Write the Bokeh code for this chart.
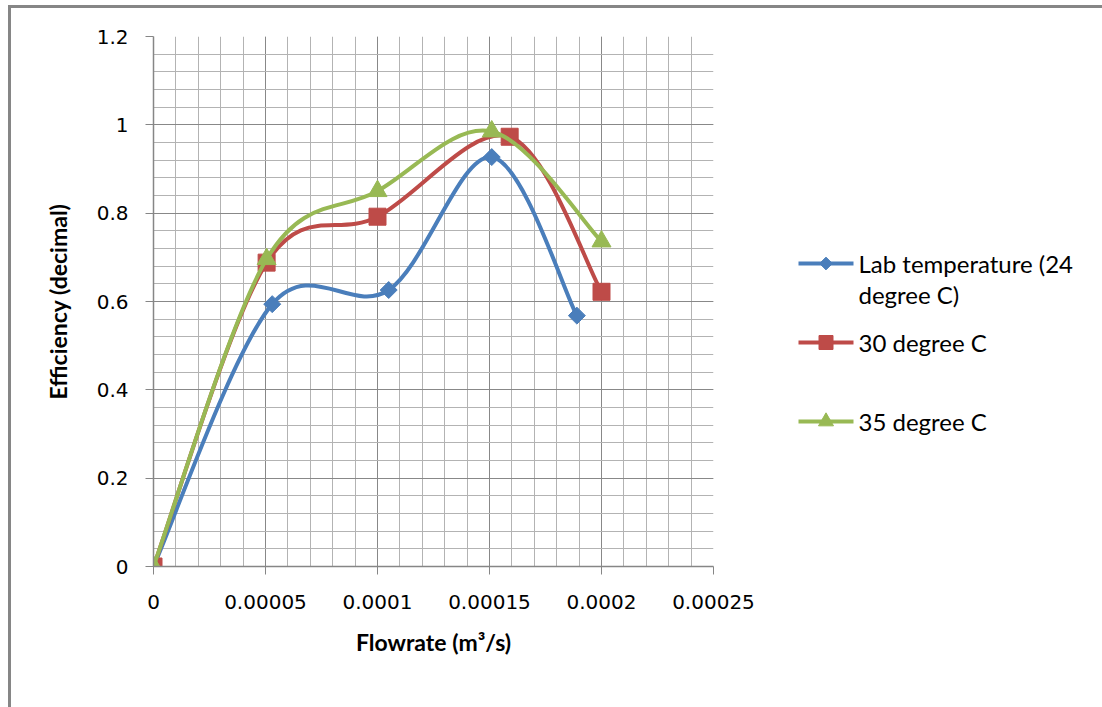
import numpy as np
from bokeh.plotting import figure
from bokeh.layouts import row
from bokeh.models import FixedTicker, Range1d
from bokeh.core.properties import value
from bokeh.embed import file_html
from bokeh.resources import INLINE

# ---------------- data ----------------
series_names = ["Lab temperature (24\ndegree C)", "30 degree C", "35 degree C"]
flow_lab = [0, 0.0000530, 0.000105, 0.000151, 0.000189]
eff_lab = [0, 0.594, 0.626, 0.927, 0.568]
flow_30 = [0, 0.0000505, 0.0001, 0.000159, 0.0002]
eff_30 = [0, 0.688, 0.792, 0.973, 0.622]
flow_35 = [0, 0.0000505, 0.0001, 0.000151, 0.0002]
eff_35 = [0, 0.696, 0.850, 0.985, 0.736]

x_ticks = [0, 0.00005, 0.0001, 0.00015, 0.0002, 0.00025]
x_tick_labels = ["0", "0.00005", "0.0001", "0.00015", "0.0002", "0.00025"]
y_ticks = [0, 0.2, 0.4, 0.6, 0.8, 1.0, 1.2]
y_tick_labels = ["0", "0.2", "0.4", "0.6", "0.8", "1", "1.2"]

x_title = "Flowrate (m\u00b3/s)"
y_title = "Efficiency (decimal)"

# ---------------- styles ----------------
colors = ["#4a7ebb", "#be4b48", "#98b954"]
markers = ["square", "square", "triangle"]
marker_angles = [np.pi / 4, 0, 0]
marker_sizes = [12, 17, 19]
AX = "#868686"
GRID_MAJ = "#888888"
GRID_MIN = "#b3b3b3"
TICK_FONT = "DejaVu Sans"
TITLE_FONT = "Lato"

# page geometry (page pixels)
OX, OY = 11, 8              # content origin after margin + border
PW, PH = 749, 699           # main figure size
LW = 342                    # legend panel width
FL, FR, FT, FB = 153, 713, 36, 566   # plot frame in page pixels

p = figure(width=PW, height=PH, output_backend="svg", toolbar_location=None,
           x_range=Range1d(0, 0.00025), y_range=Range1d(0, 1.2),
           min_border_left=FL - OX, min_border_right=OX + PW - FR,
           min_border_top=FT - OY, min_border_bottom=OY + PH - FB)
p.background_fill_color = "white"
p.border_fill_color = "white"
p.outline_line_color = None

xminor = list(np.linspace(0, 0.00025, 26))
yminor = list(np.linspace(0, 1.2, 31))
p.xaxis.ticker = FixedTicker(ticks=x_ticks, minor_ticks=xminor)
p.yaxis.ticker = FixedTicker(ticks=y_ticks, minor_ticks=yminor)
p.xaxis.major_label_overrides = {t: l for t, l in zip(x_ticks, x_tick_labels)}
p.yaxis.major_label_overrides = {t: l for t, l in zip(y_ticks, y_tick_labels)}

for ax in (p.xaxis, p.yaxis):
    ax.axis_line_color = AX
    ax.axis_line_width = 1.5
    ax.major_tick_line_color = AX
    ax.major_tick_in = 0
    ax.major_tick_out = 8
    ax.minor_tick_line_color = None
    ax.major_label_text_font = TICK_FONT
    ax.major_label_text_font_size = "20px"
    ax.major_label_text_color = "#000000"
    ax.axis_label_text_font = TITLE_FONT
    ax.axis_label_text_font_style = "bold"
    ax.axis_label_text_font_size = "23px"
    ax.axis_label_text_color = "#000000"

p.xaxis.axis_label = x_title
p.yaxis.axis_label = y_title
p.yaxis.major_label_standoff = 17
p.xaxis.major_label_standoff = 20
p.xaxis.axis_label_standoff = 16
p.yaxis.axis_label_standoff = 22

for g in (p.xgrid, p.ygrid):
    g.grid_line_color = GRID_MAJ
    g.grid_line_width = 1
    g.minor_grid_line_color = GRID_MIN
    g.minor_grid_line_width = 1


def bezier_controls(xs, ys):
    """Cubic Bezier control points of a Catmull-Rom (Excel-style) smoothed line."""
    n = len(xs)
    out = {k: [] for k in ("x0", "y0", "x1", "y1", "cx0", "cy0", "cx1", "cy1")}
    for i in range(n - 1):
        a = i - 1 if i > 0 else i
        d = i + 2 if i + 2 < n else i + 1
        out["x0"].append(xs[i]); out["y0"].append(ys[i])
        out["x1"].append(xs[i + 1]); out["y1"].append(ys[i + 1])
        out["cx0"].append(xs[i] + (xs[i + 1] - xs[a]) / 6)
        out["cy0"].append(ys[i] + (ys[i + 1] - ys[a]) / 6)
        out["cx1"].append(xs[i + 1] - (xs[d] - xs[i]) / 6)
        out["cy1"].append(ys[i + 1] - (ys[d] - ys[i]) / 6)
    return out


all_x = [flow_lab, flow_30, flow_35]
all_y = [eff_lab, eff_30, eff_35]
for xs, ys, c, m, a, s in zip(all_x, all_y, colors, markers, marker_angles, marker_sizes):
    b = bezier_controls(xs, ys)
    p.bezier(**b, line_color=c, line_width=4)
    p.scatter(xs, ys, marker=m, angle=a, size=s, fill_color=c, line_color=c)

# ---------------- legend panel (its own figure, page-pixel coordinates) ----------------
# Bokeh aligns this figure's frame with the main plot frame (page y FT..FB)
LX0 = OX + PW
lg = figure(width=LW, height=PH, output_backend="svg", toolbar_location=None,
            x_range=Range1d(LX0, LX0 + LW), y_range=Range1d(FB, FT),
            x_axis_type=None, y_axis_type=None,
            min_border_left=0, min_border_right=0,
            min_border_top=FT - OY, min_border_bottom=OY + PH - FB)
lg.grid.visible = False
lg.outline_line_color = None
lg.background_fill_color = "white"
lg.border_fill_color = "white"

leg_x0, leg_x1, leg_tx = 798, 853, 858
leg_rows = [263, 342, 421]
leg_line_gap = 31
leg_sizes = [9, 14, 15]
for name, yy, c, m, a, s in zip(series_names, leg_rows, colors, markers, marker_angles, leg_sizes):
    lg.line([leg_x0, leg_x1], [yy, yy], line_color=c, line_width=4)
    lg.scatter([(leg_x0 + leg_x1) / 2], [yy], marker=m, angle=a, size=s, fill_color=c, line_color=c)
    for k, t in enumerate(name.split("\n")):
        lg.text([leg_tx], [yy + leg_line_gap * k], text=[t], text_font=value(TITLE_FONT),
                text_font_size="24px", text_baseline="middle", text_align="left", text_color="#000000")

layout = row(p, lg, margin=(5, 0, 0, 8),
             styles={"border-top": "3px solid #868686", "border-left": "3px solid #868686"})

open("out.html", "w").write(file_html(layout, INLINE))
